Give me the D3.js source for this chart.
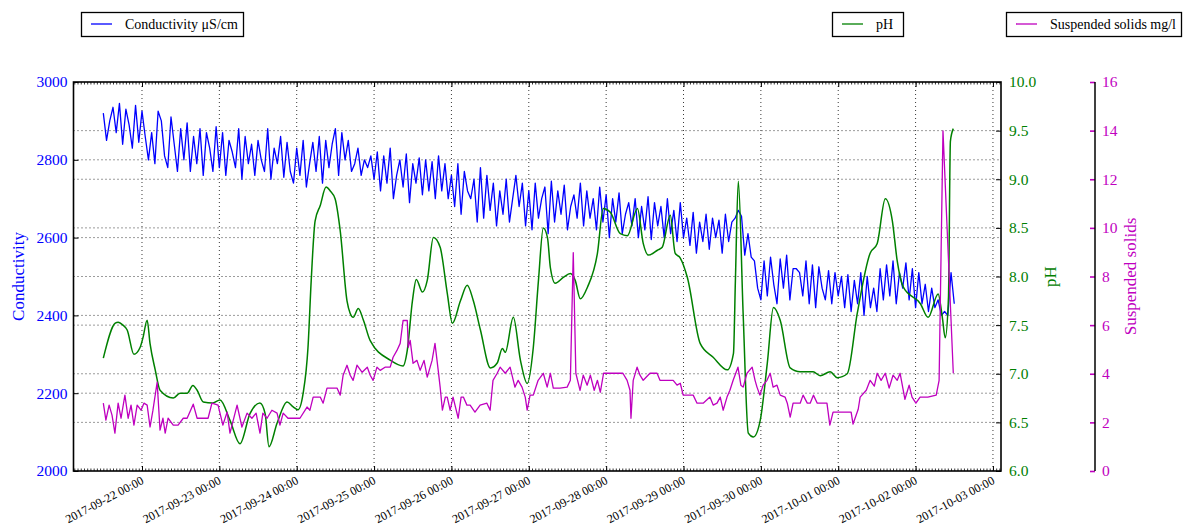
<!DOCTYPE html>
<html><head><meta charset="utf-8">
<script src="https://cdn.jsdelivr.net/npm/d3@7"></script>
<style>
body{margin:0;background:#fff}
svg{display:block}
</style>
</head><body>
<svg id="c" width="1186" height="527"></svg>
<script>
// ---------------- data ----------------
const startTime = Date.UTC(2017, 8, 21, 12, 0); // first sample, hourly conductivity
const conductivity = [
 2920,2850,2900,2935,2870,2945,2840,2930,2890,2830,2940,2845,
 2925,2860,2800,2870,2790,2925,2900,2810,2780,2910,2840,2770,2880,2800,2895,2770,2860,2790,2880,2760,2870,2830,2770,2885,
 2780,2870,2760,2850,2820,2780,2880,2750,2860,2790,2840,2760,2850,2800,2770,2880,2750,2830,2790,2860,2755,2845,2770,2740,
 2830,2760,2850,2730,2790,2845,2770,2860,2740,2850,2780,2840,2880,2760,2870,2800,2850,2770,2790,2830,2760,2800,2780,2810,
 2750,2820,2720,2810,2740,2830,2700,2760,2800,2730,2815,2690,2790,2740,2805,2710,2800,2720,2795,2700,2810,2720,2790,2700,
 2760,2680,2790,2660,2770,2720,2700,2750,2640,2780,2650,2760,2670,2740,2630,2720,2660,2750,2640,2700,2760,2680,2740,2630,
 2720,2620,2740,2650,2700,2730,2610,2745,2640,2720,2660,2735,2620,2680,2710,2650,2740,2630,2720,2650,2700,2620,2730,2640,
 2710,2600,2700,2640,2715,2610,2660,2690,2630,2700,2600,2680,2620,2705,2595,2690,2630,2680,2600,2700,2610,2670,2590,2690,
 2600,2650,2580,2665,2560,2640,2590,2660,2570,2650,2600,2645,2560,2660,2590,2640,2650,2670,2655,2555,2610,2550,2540,2470,
 2440,2540,2450,2550,2480,2430,2545,2470,2555,2440,2520,2520,2510,2450,2540,2430,2530,2420,2525,2470,2440,2515,2430,2510,
 2450,2500,2420,2505,2410,2490,2430,2510,2400,2500,2420,2470,2410,2520,2440,2530,2450,2540,2430,2510,2470,2535,2440,2520,
 2420,2510,2430,2480,2410,2470,2420,2440,2400,2410,2400,2510,2430
];
// [hours after startTime, pH]
const phReadings = [
 [0,7.16],[3.7,7.52],[4.6,7.53],[6.1,7.50],[7.4,7.45],[9.5,7.20],[11.4,7.27],[12.3,7.37],[13.6,7.55],[14.5,7.31],
 [16.1,7.04],[17.6,6.83],[21.7,6.75],[23.8,6.80],[26.0,6.80],[27.8,6.88],[29.1,6.83],[31.0,6.71],[34.0,6.70],[36.2,6.73],
 [39.3,6.52],[42.4,6.28],[45.5,6.59],[48.6,6.70],[50.2,6.59],[51.4,6.25],[53.9,6.49],[57.0,6.71],[58.9,6.66],[60.4,6.63],
 [62.0,6.80],[63.5,7.27],[64.5,7.96],[65.7,8.57],[67.3,8.73],[69.1,8.92],[70.4,8.88],[71.9,8.80],[73.5,8.47],[75.6,7.75],
 [76.6,7.62],[77.5,7.58],[79.1,7.67],[80.7,7.55],[82.8,7.34],[89.0,7.14],[93.0,7.08],[94.3,7.24],[95.9,7.75],[97.1,7.97],
 [99.0,7.84],[100.5,7.96],[102.4,8.40],[104.5,8.30],[106.7,7.83],[108.3,7.52],[110.8,7.75],[112.9,7.91],[114.8,7.75],[117.0,7.45],
 [120.1,7.06],[122.2,7.11],[123.8,7.26],[124.7,7.22],[127.2,7.58],[129.4,7.14],[131.5,6.90],[133.4,7.27],[135.0,7.96],[136.5,8.50],
 [137.8,8.40],[138.7,8.09],[140.2,7.93],[142.7,7.99],[144.9,8.03],[146.4,7.96],[148.0,7.77],[150.2,7.89],[153.3,8.24],[155.1,8.70],
 [157.3,8.66],[160.4,8.44],[162.6,8.42],[165.7,8.70],[167.5,8.34],[169.1,8.22],[171.9,8.27],[173.4,8.30],[175.9,8.63],[177.4,8.24],
 [179.0,8.19],[181.2,7.99],[185.2,7.31],[189.2,7.17],[193.6,7.04],[195.5,7.21],[196.1,7.96],[197.0,8.98],[198.5,7.62],[200.1,6.39],
 [201.7,6.35],[203.8,6.52],[206.0,7.11],[207.9,7.68],[210.0,7.55],[213.1,7.06],[216.2,7.02],[220.2,7.02],[222.4,6.98],[225.5,7.02],
 [227.7,6.96],[230.8,7.00],[233.9,7.62],[237.9,8.24],[240.1,8.34],[242.6,8.80],[244.8,8.57],[246.3,8.16],[248.2,7.89],[253.5,7.72],
 [255.9,7.58],[259.0,7.82],[260.3,7.58],[261.2,7.37],[262.2,7.78],[262.8,9.39],[263.7,9.52]
];
// [hours after startTime, suspended solids mg/l]
const ssReadings = [
 [0.0,2.79],[0.8,2.09],[1.8,2.71],[2.7,2.30],[3.6,1.56],[4.6,2.79],[5.5,2.17],[6.7,3.12],[7.7,2.17],[8.6,2.71],
 [9.5,1.89],[10.5,2.71],[11.7,2.50],[12.6,2.79],[13.6,2.71],[14.5,1.81],[15.4,2.50],[16.7,3.65],[17.6,1.68],[18.5,2.17],
 [19.2,1.56],[20.1,2.17],[21.7,1.89],[23.2,1.89],[24.8,2.17],[26.0,2.17],[27.9,2.75],[29.1,2.17],[32.5,2.17],[33.7,2.79],
 [35.6,2.71],[37.1,1.89],[38.4,2.42],[39.3,1.56],[41.5,2.71],[43.0,1.81],[44.6,2.38],[46.1,2.17],[47.4,2.38],[48.6,1.56],
 [49.5,2.38],[50.8,2.17],[52.3,2.50],[53.9,2.38],[54.8,1.89],[55.8,2.38],[57.3,2.17],[58.9,2.17],[61.0,2.17],[63.2,2.63],
 [64.1,2.50],[65.1,3.04],[67.3,3.04],[68.2,2.79],[69.4,3.41],[72.5,3.41],[73.5,3.12],[74.4,3.94],[75.6,4.35],[76.6,3.94],
 [77.5,3.73],[78.7,4.35],[80.3,4.06],[81.9,4.27],[82.8,3.94],[83.7,3.73],[84.9,4.27],[85.9,4.14],[87.4,4.27],[89.0,4.27],
 [89.9,4.68],[91.1,4.96],[92.1,5.25],[93.0,6.19],[94.3,6.19],[94.6,5.09],[95.2,5.37],[96.1,4.43],[97.3,4.55],[98.3,4.14],
 [99.5,4.55],[100.5,3.86],[102.0,4.55],[102.9,5.25],[103.9,4.14],[104.5,3.45],[105.2,2.50],[106.1,3.04],[106.7,3.04],[107.6,2.50],
 [108.5,3.04],[110.1,2.17],[111.0,3.04],[111.7,3.04],[112.8,2.71],[113.8,2.71],[115.3,2.42],[116.9,2.71],[119.0,2.79],[120.0,2.50],
 [120.9,3.73],[122.2,4.02],[123.1,4.27],[124.7,4.02],[126.2,4.27],[127.7,3.45],[128.7,3.73],[129.9,3.45],[130.9,3.04],[131.5,2.50],
 [132.4,3.12],[133.4,3.12],[134.9,3.73],[136.5,4.02],[137.7,3.45],[138.7,4.02],[139.6,3.41],[141.7,3.41],[143.9,3.45],[144.9,3.73],
 [145.8,8.98],[146.6,4.02],[147.9,3.32],[148.9,3.94],[150.1,3.53],[151.1,3.94],[152.3,3.32],[153.3,3.73],[154.2,3.24],[155.2,4.02],
 [161.2,4.02],[162.5,3.73],[163.4,3.32],[163.7,2.17],[164.4,3.73],[165.6,4.27],[166.5,3.94],[167.5,3.73],[169.6,4.02],[171.8,4.02],
 [172.7,3.73],[174.9,3.73],[176.8,3.73],[178.0,3.53],[179.0,3.61],[179.9,3.12],[183.0,3.12],[184.2,2.79],[186.1,2.79],[188.2,3.04],
 [189.2,2.71],[190.4,2.79],[191.4,3.04],[192.3,2.50],[193.5,3.04],[194.4,3.32],[195.4,3.73],[196.9,4.27],[197.8,3.53],[198.5,3.45],
 [199.7,4.02],[201.3,4.27],[202.2,3.73],[202.8,3.45],[203.7,3.12],[204.7,3.53],[205.9,3.73],[206.9,4.02],[207.8,3.45],[209.0,3.53],
 [210.0,3.12],[211.5,3.04],[212.2,2.79],[213.1,2.22],[214.0,2.79],[216.2,2.79],[217.1,3.12],[218.4,2.79],[219.3,2.79],[220.3,3.12],
 [221.5,2.79],[224.5,2.79],[225.4,1.89],[226.4,2.42],[228.6,2.42],[232.0,2.42],[232.6,1.93],[234.2,2.54],[234.8,3.04],[236.7,3.32],
 [237.9,3.73],[239.2,3.49],[240.1,4.02],[241.3,3.73],[242.6,4.02],[243.8,3.41],[245.0,3.94],[246.3,3.73],[247.2,4.02],[248.7,2.95],
 [250.0,3.53],[250.9,3.04],[252.1,2.79],[253.4,3.04],[255.8,3.04],[258.4,3.12],[259.3,3.73],[260.5,13.99],[263.7,4.02]
];
const condTicks = [2000,2200,2400,2600,2800,3000];
const phTicks = [6.0,6.5,7.0,7.5,8.0,8.5,9.0,9.5,10.0];
const ssTicks = [0,2,4,6,8,10,12,14,16];
const xDomain = [Date.UTC(2017,8,21,2,45), Date.UTC(2017,9,3,2,30)];
const seriesNames = ["Conductivity \u03bcS/cm","pH","Suspended solids mg/l"];
const axisTitles = ["Conductivity","pH","Suspended solids"];

// ---------------- drawing ----------------
const SERIF = '"Liberation Serif","Times New Roman",Times,serif';
const BLUE="#0000ff", GREEN="#008000", MAG="#bf00bf";
const L=73.5, R=1001, T=82, B=471, SSX=1095;
const svg = d3.select("#c");
const HOUR = 3600e3;

const x = d3.scaleUtc().domain(xDomain).range([L,R]);
const yC = d3.scaleLinear().domain([2000,3000]).range([B,T]);
const yP = d3.scaleLinear().domain([6,10]).range([B,T]);
const yS = d3.scaleLinear().domain([0,16]).range([B,T]);

const days = d3.utcDay.range(Date.UTC(2017,8,22), Date.UTC(2017,9,3,1));
const hours = d3.utcHour.range(xDomain[0], xDomain[1]);

// grid
const grid = svg.append("g").attr("stroke","#222").attr("stroke-width",0.9).attr("stroke-dasharray","1,3");
grid.selectAll(".gv").data(days).join("line")
  .attr("x1",d=>x(d)).attr("x2",d=>x(d)).attr("y1",T).attr("y2",B);
grid.selectAll(".gc").data(condTicks.slice(1,-1)).join("line")
  .attr("x1",L).attr("x2",R).attr("y1",d=>yC(d)).attr("y2",d=>yC(d));
grid.selectAll(".gp").data(phTicks.slice(1,-1)).join("line")
  .attr("x1",L).attr("x2",R).attr("y1",d=>yP(d)).attr("y2",d=>yP(d));

// lines
const condData = conductivity.map((v,i)=>({t:startTime+i*HOUR, v}));
const phData = phReadings.map(([h,v])=>({t:startTime+h*HOUR, v}));
const ssData = ssReadings.map(([h,v])=>({t:startTime+h*HOUR, v}));

svg.append("path").datum(condData)
  .attr("fill","none").attr("stroke",BLUE).attr("stroke-width",1.3).attr("stroke-linejoin","round")
  .attr("d", d3.line().x(d=>x(d.t)).y(d=>yC(d.v)));
svg.append("path").datum(phData)
  .attr("fill","none").attr("stroke",GREEN).attr("stroke-width",1.5).attr("stroke-linejoin","round")
  .attr("d", d3.line().curve(d3.curveMonotoneX).x(d=>x(d.t)).y(d=>yP(d.v)));
svg.append("path").datum(ssData)
  .attr("fill","none").attr("stroke",MAG).attr("stroke-width",1.3).attr("stroke-linejoin","round")
  .attr("d", d3.line().x(d=>x(d.t)).y(d=>yS(d.v)));

// axes
function styleAxis(g){ g.select(".domain").remove(); g.attr("font-family",null); g.selectAll("text").style("font-family",SERIF); }

const fmt = d3.utcFormat("%Y-%m-%d %H:%M");
const xb = svg.append("g").attr("transform",`translate(0,${B})`)
  .call(d3.axisBottom(x).tickValues(days).tickSize(-5).tickSizeOuter(0).tickFormat(fmt));
styleAxis(xb);
xb.selectAll("line").attr("stroke","#000");
xb.selectAll("text").style("font-size","12px").attr("fill","#000")
  .attr("text-anchor","end").attr("y",0).attr("dy",0)
  .attr("transform","translate(2,12) rotate(-28)");
const xbm = svg.append("g").attr("transform",`translate(0,${B})`)
  .call(d3.axisBottom(x).tickValues(hours).tickSize(-2.5).tickSizeOuter(0).tickFormat(""));
styleAxis(xbm); xbm.selectAll("line").attr("stroke","#000").attr("stroke-width",0.8);
const xt = svg.append("g").attr("transform",`translate(0,${T})`)
  .call(d3.axisTop(x).tickValues(days).tickSize(-5).tickSizeOuter(0).tickFormat(""));
styleAxis(xt); xt.selectAll("line").attr("stroke","#000");
const xtm = svg.append("g").attr("transform",`translate(0,${T})`)
  .call(d3.axisTop(x).tickValues(hours).tickSize(-2.5).tickSizeOuter(0).tickFormat(""));
styleAxis(xtm); xtm.selectAll("line").attr("stroke","#000").attr("stroke-width",0.8);

const yl = svg.append("g").attr("transform",`translate(${L},0)`)
  .call(d3.axisLeft(yC).tickValues(condTicks).tickSize(-5).tickSizeOuter(0).tickPadding(6).tickFormat(d3.format("d")));
styleAxis(yl);
yl.selectAll("line").attr("stroke","#000");
yl.selectAll("text").style("font-size","15.5px").attr("fill",BLUE);

const yr = svg.append("g").attr("transform",`translate(${R},0)`)
  .call(d3.axisRight(yP).tickValues(phTicks).tickSize(-5).tickSizeOuter(0).tickPadding(8).tickFormat(d3.format(".1f")));
styleAxis(yr);
yr.selectAll("line").attr("stroke","#000");
yr.selectAll("text").style("font-size","15.5px").attr("fill",GREEN);

const ys = svg.append("g").attr("transform",`translate(${SSX},0)`)
  .call(d3.axisRight(yS).tickValues(ssTicks).tickSize(-5).tickSizeOuter(0).tickPadding(7).tickFormat(d3.format("d")));
styleAxis(ys);
ys.selectAll("line").attr("stroke",MAG).attr("stroke-width",1.6);
ys.selectAll("text").style("font-size","15.5px").attr("fill",MAG);
svg.append("line").attr("x1",SSX).attr("x2",SSX).attr("y1",T).attr("y2",B).attr("stroke","#000").attr("stroke-width",1.5);

svg.append("rect").attr("x",L).attr("y",T).attr("width",R-L).attr("height",B-T)
  .attr("fill","none").attr("stroke","#000").attr("stroke-width",1.6);

const mid = (T+B)/2;
[[24,BLUE,0],[1056,GREEN,1],[1136,MAG,2]].forEach(([tx,c,i])=>{
  svg.append("text").attr("transform",`translate(${tx},${mid}) rotate(-90)`).attr("text-anchor","middle")
    .style("font-family",SERIF).style("font-size","17px").attr("fill",c).text(axisTitles[i]);
});

const legends = [
  {name:seriesNames[0], color:BLUE, x0:81, x1:243},
  {name:seriesNames[1], color:GREEN, x0:832, x1:903},
  {name:seriesNames[2], color:MAG, x0:1006, x1:1181}
];
legends.forEach(l=>{
  const g = svg.append("g");
  g.append("rect").attr("x",l.x0+0.5).attr("y",12.5).attr("width",l.x1-l.x0).attr("height",24)
    .attr("fill","#fff").attr("stroke","#000").attr("stroke-width",1.3);
  g.append("line").attr("x1",l.x0+10).attr("x2",l.x0+31).attr("y1",24).attr("y2",24)
    .attr("stroke",l.color).attr("stroke-width",1.3);
  g.append("text").attr("x",l.x0+44).attr("y",29).style("font-family",SERIF).style("font-size","14px")
    .attr("fill","#000").text(l.name);
});
</script>
</body></html>
